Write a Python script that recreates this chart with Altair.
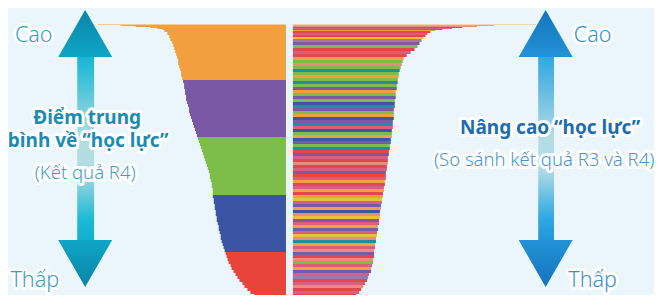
import altair as alt
import pandas as pd

BG = "#EAF5FC"

# ---- left shape: R4 average score, sorted (row top y, left extent x) ----
left_y = [24, 25, 26, 27, 28, 29, 30, 32, 35, 38, 41, 44, 47, 50, 53, 56, 59, 62, 65, 68, 71, 74, 77,
          80, 83, 86, 89, 92, 95, 98, 101, 104, 107, 110, 113, 116, 119, 122, 125, 128, 131, 134,
          137, 140, 143, 146, 149, 152, 155, 158, 161, 164, 167, 170, 173, 176, 179, 182, 185, 188, 191,
          195, 198, 201, 204, 207, 210, 213, 216, 219, 222, 225, 228, 231, 234, 237, 240, 243, 246, 249,
          252, 255, 258, 261, 264, 267, 270, 273, 276, 279, 282, 285, 288, 291, 294, 297, 300, 303]
left_x = [97, 120, 135, 150, 157, 162, 164, 167, 169, 170, 172, 173, 174, 175, 176, 177, 178, 178, 179, 180, 181, 181, 182,
          183, 184, 184, 185, 185, 186, 186, 187, 188, 189, 189, 190, 191, 192, 193, 194, 195, 196, 197,
          198, 199, 200, 201, 202, 203, 204, 205, 206, 207, 208, 209, 210, 210, 211, 212, 212, 213, 213,
          213, 214, 214, 215, 215, 216, 216, 217, 217, 218, 219, 219, 220, 221, 221, 222, 223, 224, 225,
          226, 227, 228, 229, 231, 232, 234, 236, 238, 240, 243, 245, 248, 251, 255, 259, 266]
left_edge = 287
band_edges = [24, 25, 80, 137, 195, 252, 303]
band_colors = ["#F6CC92", "#F2A03F", "#7B58A3", "#7DBE4B", "#3B55A4", "#E8443A"]

# ---- right shape: improvement R3 -> R4, sorted ----
right_y = [24, 25, 26, 27, 28, 29, 30, 31, 33, 35, 37, 39,
           42, 45, 48, 51, 54, 57, 60, 63, 66, 69, 72, 75, 78, 81, 84, 87, 90, 93, 96, 99,
           102, 105, 108, 111, 114, 117, 120, 123, 126, 129, 132, 135, 138, 141, 144, 147, 150,
           153, 156, 159, 162, 165, 168, 171, 174, 177, 180, 183, 186, 189, 192, 195, 198, 201,
           204, 207, 210, 213, 216, 219, 222, 225, 228, 231, 234, 237, 240, 243, 246, 249, 252,
           255, 258, 261, 264, 267, 270, 273, 276, 279, 282, 285, 288, 291, 294, 297, 300, 303]
right_x = [540, 497, 480, 465, 455, 445, 438, 433, 430, 428, 426, 424,
           422, 420, 417, 413, 409, 406, 405, 404, 403, 402, 401, 401, 400, 400, 399, 399, 398, 398, 398, 397,
           397, 397, 396, 396, 396, 396, 395, 395, 395, 394, 394, 394, 393, 393, 392, 392, 391,
           391, 390, 390, 390, 389, 389, 388, 388, 388, 387, 387, 386, 386, 385, 385, 384, 384,
           383, 383, 382, 382, 382, 381, 381, 380, 380, 379, 379, 378, 378, 377, 377, 376, 376,
           376, 375, 375, 374, 373, 373, 371, 370, 369, 367, 365, 363, 361, 358, 352, 344]
right_c = ["L", "g", "S", "R", "P", "R", "O", "R", "P", "R", "Y", "M",
           "U", "G", "R", "P", "R", "O", "G", "S", "G", "T", "G", "O", "G", "T", "G", "U", "O", "G", "U", "G",
           "B", "T", "U", "G", "O", "B", "U", "T", "P", "B", "G", "O", "B", "U", "G", "T", "R",
           "U", "P", "R", "S", "R", "P", "U", "R", "P", "O", "R", "P", "O", "R", "O", "Y", "P",
           "U", "O", "B", "S", "Y", "U", "P", "O", "U", "P", "Y", "S", "T", "O", "P", "S", "U",
           "R", "S", "G", "P", "O", "U", "P", "M", "R", "P", "S", "R", "P", "R", "R", "R"]
right_edge = 294
palette = {"L": "#EFD7AE", "g": "#A9C872", "R": "#E2474E", "P": "#D8607E", "S": "#E98C7E",
           "O": "#F0A043", "Y": "#E5C23C", "G": "#7CBB4C", "T": "#1E8FA0", "B": "#3D55A5",
           "U": "#7C5AA3", "M": "#9B7BA6"}

# ---- labels ----
labels_bold = [("Điểm trung", 86, 124, "#1A8CB4"),
               ("bình về “học lực”", 87, 147, "#1A8CB4"),
               ("Nâng cao “học lực”", 554, 134, "#1B6CB2")]
labels_reg = [("(Kết quả R4)", 84, 179, "#3E9FC6"),
              ("(So sánh kết quả R3 và R4)", 548, 166, "#4A93D0")]
labels_big = [("Cao", 32, 42, "#3D9EC0"), ("Thấp", 33, 287, "#3D9EC0"),
              ("Cao", 597, 42, "#3C8ECF"), ("Thấp", 597, 287, "#3C8ECF")]

# ---- arrows: (center x, shaft x0, shaft x1) ----
arrows = [("left", 84, 76, 93), ("right", 549.5, 542, 558)]
arrow_head_top = (10, 57)
arrow_head_bottom = (240, 287)

# ---------------- build tables ----------------
rows = []
for i in range(len(left_x)):
    y0, y1 = left_y[i], left_y[i + 1]
    col = band_colors[0]
    for b in range(len(band_colors)):
        if band_edges[b] <= y0 < band_edges[b + 1]:
            col = band_colors[b]
    rows.append({"x": left_x[i], "x2": left_edge, "y": y0, "y2": y1, "c": col})
for i in range(len(right_x)):
    rows.append({"x": right_edge, "x2": right_x[i], "y": right_y[i], "y2": right_y[i + 1],
                 "c": palette[right_c[i]]})
bars_df = pd.DataFrame(rows)

X = alt.Scale(domain=[8, 654], nice=False, zero=False)
Y = alt.Scale(domain=[8, 295], nice=False, zero=False, reverse=True)

bars = alt.Chart(bars_df).mark_rect(clip=True).encode(
    x=alt.X("x:Q", scale=X, axis=None), x2="x2:Q",
    y=alt.Y("y:Q", scale=Y, axis=None), y2="y2:Q",
    color=alt.Color("c:N", scale=None),
)

def grad(stops):
    return alt.LinearGradient(gradient="linear", x1=0, x2=0, y1=0, y2=1,
                              stops=[alt.GradientStop(offset=o, color=c) for o, c in stops])

arrow_colors = {
    "left": {"head_up": [(0, "#0A84A8"), (1, "#0FA6C6")],
             "head_dn": [(0, "#0FA6C6"), (1, "#0A84A8")],
             "shaft": [(0, "#14B6D6"), (0.12, "#3CC0D8"), (0.45, "#B4DEE0"),
                       (0.62, "#B0DCE0"), (0.88, "#1DBAD6"), (1, "#10AED0")]},
    "right": {"head_up": [(0, "#1474BE"), (1, "#2392D6")],
              "head_dn": [(0, "#2392D6"), (1, "#1474BE")],
              "shaft": [(0, "#2FA9E2"), (0.12, "#52B3E2"), (0.45, "#B4DDE6"),
                        (0.62, "#AEDAE6"), (0.88, "#2EA8E2"), (1, "#2196D8")]},
}

layers = [bars]
UP = "M-1,0.87L1,0.87L0,-0.87Z"
DN = "M-1,-0.87L1,-0.87L0,0.87Z"
for name, cx, sx0, sx1 in arrows:
    shaft_df = pd.DataFrame([{"x": sx0, "x2": sx1, "y": arrow_head_top[1] - 1, "y2": arrow_head_bottom[0] + 1}])
    layers.append(alt.Chart(shaft_df).mark_rect(color=grad(arrow_colors[name]["shaft"])).encode(
        x=alt.X("x:Q", scale=X, axis=None), x2="x2:Q",
        y=alt.Y("y:Q", scale=Y, axis=None), y2="y2:Q"))
    w = 54
    for shape, (ya, yb), key in [(UP, arrow_head_top, "head_up"), (DN, arrow_head_bottom, "head_dn")]:
        hdf = pd.DataFrame([{"x": cx, "y": (ya + yb) / 2}])
        layers.append(alt.Chart(hdf).mark_point(
            shape=shape, size=w * w, filled=True, opacity=1, strokeWidth=0,
            color=grad(arrow_colors[name][key])).encode(
            x=alt.X("x:Q", scale=X, axis=None), y=alt.Y("y:Q", scale=Y, axis=None)))

FONT = "Noto Sans"

def text_layers(items, size, weight):
    df = pd.DataFrame([{"t": t, "x": x, "y": y, "c": c} for t, x, y, c in items])
    enc = dict(x=alt.X("x:Q", scale=X, axis=None), y=alt.Y("y:Q", scale=Y, axis=None), text="t:N")
    halo = alt.Chart(df).mark_text(font=FONT, fontSize=size, fontWeight=weight, align="center",
                                   baseline="alphabetic", color="white", stroke="white",
                                   strokeWidth=6, strokeJoin="round").encode(**enc)
    main = alt.Chart(df).mark_text(font=FONT, fontSize=size, fontWeight=weight, align="center",
                                   baseline="alphabetic").encode(color=alt.Color("c:N", scale=None), **enc)
    return [halo, main]

layers += text_layers(labels_bold, 19, "bold")
layers += text_layers(labels_reg, 18.5, 300)
layers += text_layers(labels_big, 21.5, 300)

chart = alt.layer(*layers).properties(
    width=646, height=287, padding=0, background=BG,
    autosize=alt.AutoSizeParams(type="fit", contains="padding"),
).configure_view(stroke=None)

chart.save("out.html", embed_options={"renderer": "svg", "actions": False})
